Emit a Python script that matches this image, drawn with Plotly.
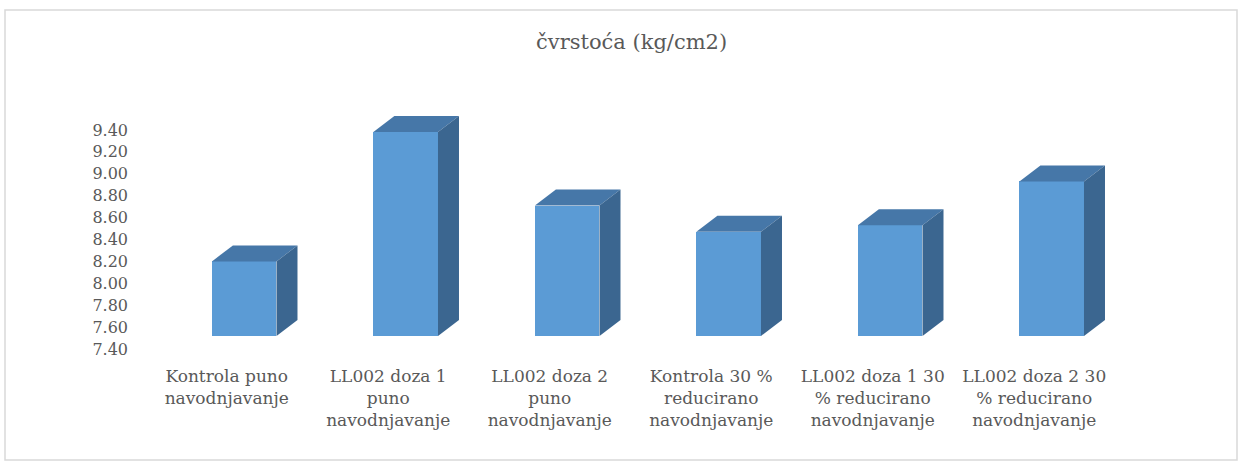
import plotly.graph_objects as go

categories = [
    "Kontrola puno<br>navodnjavanje",
    "LL002 doza 1<br>puno<br>navodnjavanje",
    "LL002 doza 2<br>puno<br>navodnjavanje",
    "Kontrola 30 %<br>reducirano<br>navodnjavanje",
    "LL002 doza 1 30<br>% reducirano<br>navodnjavanje",
    "LL002 doza 2 30<br>% reducirano<br>navodnjavanje",
]
values = [8.20, 9.38, 8.71, 8.47, 8.53, 8.93]
y_ticks = [7.40, 7.60, 7.80, 8.00, 8.20, 8.40, 8.60, 8.80, 9.00, 9.20, 9.40]
title_text = "čvrstoća (kg/cm2)"

# styling / 3D geometry (in axis units)
FRONT = "#5b9bd5"
TOP = "#4677a8"
SIDE = "#3b6690"
TEXT = "#595959"
FONT = "DejaVu Serif"
base = 7.52        # front-face floor level (floor front edge is lower)
shift = 0.108      # front face offset from category position
width = 0.40
dx = 0.13          # depth offset x
dy = 0.146         # depth offset y

xs = list(range(len(categories)))
fig = go.Figure()

fig.add_trace(go.Bar(
    x=[x + shift for x in xs],
    y=[v - base for v in values],
    base=base,
    width=width,
    marker=dict(color=FRONT, line=dict(width=0)),
    hoverinfo="skip",
    showlegend=False,
))

for x, v in zip(xs, values):
    x0 = x + shift - width / 2
    x1 = x + shift + width / 2
    # top face
    fig.add_trace(go.Scatter(
        x=[x0, x1, x1 + dx, x0 + dx, x0],
        y=[v, v, v + dy, v + dy, v],
        fill="toself", fillcolor=TOP, mode="lines",
        line=dict(width=0), hoverinfo="skip", showlegend=False,
    ))
    # side face
    fig.add_trace(go.Scatter(
        x=[x1, x1 + dx, x1 + dx, x1, x1],
        y=[base, base + dy, v + dy, v, base],
        fill="toself", fillcolor=SIDE, mode="lines",
        line=dict(width=0), hoverinfo="skip", showlegend=False,
    ))

L, R, T, B = 146, 128, 108, 105
W, H = 1243, 465
pw, ph = W - L - R, H - T - B

def px(xp):
    return (xp - L) / pw

def py(yp):
    return (H - B - yp) / ph

fig.update_layout(
    width=W, height=H,
    margin=dict(l=L, r=R, t=T, b=B),
    paper_bgcolor="white", plot_bgcolor="white",
    font=dict(family=FONT, color=TEXT, size=16),
    bargap=0,
    xaxis=dict(
        range=[-0.5, 5.5], tickmode="array", tickvals=xs, ticktext=categories,
        showgrid=False, zeroline=False, showline=False, ticks="",
        tickfont=dict(family=FONT, size=17, color=TEXT),
        ticklabelstandoff=4,
    ),
    yaxis=dict(
        range=[7.30, 9.60], tickmode="array", tickvals=y_ticks,
        ticktext=[f"{t:.2f}" for t in y_ticks],
        showgrid=False, zeroline=False, showline=False, ticks="",
        tickfont=dict(family=FONT, size=16, color=TEXT),
        ticklabelstandoff=17,
    ),
    annotations=[dict(
        text=title_text, xref="paper", yref="paper",
        x=px(631), y=py(42), showarrow=False,
        font=dict(family=FONT, size=21, color=TEXT),
        xanchor="center", yanchor="middle",
    )],
    shapes=[dict(
        type="rect", xref="paper", yref="paper",
        x0=px(5), x1=px(1237), y0=py(460), y1=py(10),
        line=dict(color="#d9d9d9", width=1.5), fillcolor="rgba(0,0,0,0)",
        layer="below",
    )],
)

fig.write_html(
    "out.html",
    config={"displayModeBar": False, "staticPlot": True},
    post_script="document.body.style.margin='0';document.body.style.overflow='hidden';",
)
